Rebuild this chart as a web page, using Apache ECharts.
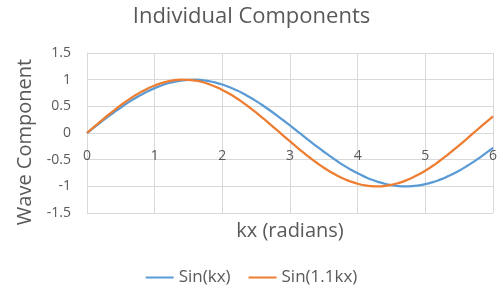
<!DOCTYPE html>
<html>
<head>
<meta charset="utf-8">
<script src="https://cdn.jsdelivr.net/npm/echarts@6/dist/echarts.min.js"></script>
<style>
html, body { margin: 0; padding: 0; background: #fff; }
#chart { width: 503px; height: 295px; }
</style>
</head>
<body>
<div id="chart"></div>
<script>
// x positions (radians), read at 0.1 steps
var kx = [0, 0.1, 0.2, 0.3, 0.4, 0.5, 0.6, 0.7, 0.8, 0.9, 1.0, 1.1, 1.2, 1.3, 1.4, 1.5, 1.6, 1.7, 1.8, 1.9,
	2.0, 2.1, 2.2, 2.3, 2.4, 2.5, 2.6, 2.7, 2.8, 2.9, 3.0, 3.1, 3.2, 3.3, 3.4, 3.5, 3.6, 3.7, 3.8, 3.9,
	4.0, 4.1, 4.2, 4.3, 4.4, 4.5, 4.6, 4.7, 4.8, 4.9, 5.0, 5.1, 5.2, 5.3, 5.4, 5.5, 5.6, 5.7, 5.8, 5.9, 6.0];
var sinKx = [0, 0.100, 0.199, 0.296, 0.389, 0.479, 0.565, 0.644, 0.717, 0.783,
	0.841, 0.891, 0.932, 0.964, 0.985, 0.997, 1.000, 0.992, 0.974, 0.946,
	0.909, 0.863, 0.808, 0.746, 0.675, 0.598, 0.516, 0.427, 0.335, 0.239,
	0.141, 0.042, -0.058, -0.158, -0.256, -0.351, -0.443, -0.530, -0.612, -0.688,
	-0.757, -0.818, -0.872, -0.916, -0.952, -0.978, -0.994, -1.000, -0.996, -0.982,
	-0.959, -0.926, -0.883, -0.832, -0.773, -0.706, -0.631, -0.551, -0.465, -0.374, -0.279];
var sin11Kx = [0, 0.110, 0.218, 0.324, 0.426, 0.523, 0.613, 0.696, 0.771, 0.836,
	0.891, 0.936, 0.969, 0.990, 1.000, 0.997, 0.982, 0.956, 0.917, 0.868,
	0.808, 0.739, 0.661, 0.574, 0.481, 0.382, 0.278, 0.171, 0.062, -0.048,
	-0.158, -0.265, -0.369, -0.469, -0.563, -0.651, -0.730, -0.801, -0.862, -0.912,
	-0.951, -0.980, -0.996, -1.000, -0.992, -0.972, -0.940, -0.897, -0.843, -0.779,
	-0.706, -0.624, -0.534, -0.438, -0.336, -0.231, -0.123, -0.013, 0.097, 0.205, 0.311];
var seriesNames = ["Sin(kx)", "Sin(1.1kx)"];

var textColor = "#595959";
var fontName = "'Open Sans', 'Noto Sans', sans-serif";

function pairs(xs, ys) {
	var out = [];
	for (var i = 0; i < xs.length; i++) {
		out.push([xs[i], ys[i]]);
	}
	return out;
}

var chart = echarts.init(document.getElementById('chart'));
var option = {
	animation: false,
	textStyle: { fontFamily: fontName },
	title: {
		text: 'Individual Components',
		left: 'center',
		top: 1,
		textStyle: { color: textColor, fontSize: 22, fontWeight: 'normal', fontFamily: fontName }
	},
	legend: {
		bottom: 4,
		left: 'center',
		itemWidth: 28,
		itemHeight: 2,
		itemGap: 18,
		icon: 'rect',
		textStyle: { color: textColor, fontSize: 17, fontFamily: fontName },
		data: seriesNames
	},
	grid: { left: 87, right: 10, top: 53, bottom: 82, outerBoundsMode: 'none', containLabel: false },
	xAxis: {
		type: 'value',
		min: 0,
		max: 6,
		interval: 1,
		position: 'bottom',
		offset: -80,
		name: 'kx (radians)',
		nameLocation: 'middle',
		nameGap: 88,
		nameTextStyle: { color: textColor, fontSize: 20, fontFamily: fontName },
		axisLine: { onZero: false, lineStyle: { color: '#d9d9d9' } },
		axisTick: { show: false },
		axisLabel: { color: textColor, fontSize: 14, margin: 16 },
		splitLine: { show: true, lineStyle: { color: '#d9d9d9' } }
	},
	yAxis: {
		type: 'value',
		min: -1.5,
		max: 1.5,
		interval: 0.5,
		name: 'Wave Component',
		nameLocation: 'middle',
		nameGap: 52,
		nameTextStyle: { color: textColor, fontSize: 20, fontFamily: fontName, padding: [0, 0, 0, -18] },
		axisLine: { show: true, onZero: false, lineStyle: { color: '#d9d9d9' } },
		axisTick: { show: false },
		axisLabel: { color: textColor, fontSize: 14, margin: 16 },
		splitLine: { show: true, lineStyle: { color: '#d9d9d9' } }
	},
	series: [
		{
			name: seriesNames[0],
			type: 'line',
			smooth: true,
			showSymbol: false,
			lineStyle: { color: '#5b9bd5', width: 2.25 },
			itemStyle: { color: '#5b9bd5' },
			data: pairs(kx, sinKx)
		},
		{
			name: seriesNames[1],
			type: 'line',
			smooth: true,
			showSymbol: false,
			lineStyle: { color: '#ed7d31', width: 2.25 },
			itemStyle: { color: '#ed7d31' },
			data: pairs(kx, sin11Kx)
		}
	]
};
chart.setOption(option);
</script>
</body>
</html>
